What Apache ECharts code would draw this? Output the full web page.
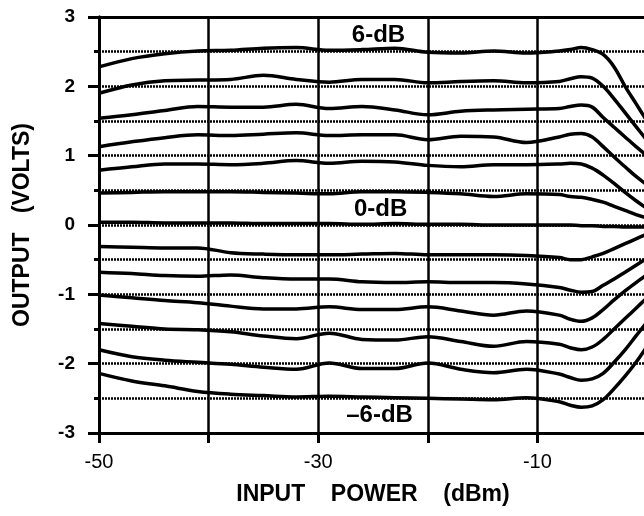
<!DOCTYPE html>
<html>
<head>
<meta charset="utf-8">
<script src="https://cdn.jsdelivr.net/npm/echarts@6/dist/echarts.min.js"></script>
<style>html,body{margin:0;padding:0;background:#fff;overflow:hidden;}#c{width:644px;height:516px;}</style>
</head>
<body>
<div id="c"></div>
<script>
// Input power (dBm) sample points
const inputPower = [-50,-47,-44,-41,-38,-35,-32,-29,-26,-23,-20,-17,-14,-11,-8,-7,-6,-5,-4,-3,-2,-1,0];
// Output (volts) per gain setting
const gainP6 = [2.28,2.40,2.47,2.51,2.52,2.55,2.56,2.52,2.53,2.55,2.49,2.48,2.51,2.48,2.51,2.53,2.56,2.53,2.46,2.28,2.00,1.75,1.50];
const gainP5 = [1.90,2.02,2.08,2.09,2.10,2.16,2.10,2.06,2.10,2.10,2.05,2.07,2.08,2.05,2.07,2.11,2.14,2.12,2.00,1.82,1.62,1.42,1.22];
const gainP4 = [1.54,1.59,1.65,1.71,1.70,1.70,1.74,1.68,1.71,1.66,1.59,1.64,1.66,1.67,1.68,1.71,1.73,1.70,1.55,1.41,1.27,1.13,1.00];
const gainP3 = [1.13,1.20,1.26,1.30,1.29,1.31,1.33,1.29,1.30,1.30,1.23,1.28,1.27,1.19,1.27,1.31,1.32,1.27,1.13,0.98,0.84,0.70,0.58];
const gainP2 = [0.79,0.84,0.88,0.88,0.87,0.89,0.93,0.89,0.92,0.91,0.86,0.84,0.87,0.87,0.88,0.89,0.88,0.82,0.72,0.60,0.47,0.35,0.24];
const gainP1 = [0.46,0.47,0.48,0.48,0.48,0.47,0.46,0.45,0.48,0.48,0.47,0.45,0.41,0.45,0.44,0.41,0.40,0.37,0.33,0.27,0.21,0.15,0.10];
const gain0  = [0.04,0.04,0.03,0.03,0.03,0.02,0.02,0.02,0.01,0.02,0.01,0.01,0.00,0.00,0.00,0.00,-0.01,-0.01,-0.02,-0.02,-0.03,-0.03,-0.03];
const gainM1 = [-0.31,-0.32,-0.33,-0.33,-0.40,-0.42,-0.43,-0.43,-0.42,-0.41,-0.43,-0.43,-0.43,-0.44,-0.47,-0.50,-0.50,-0.46,-0.41,-0.34,-0.27,-0.20,-0.13];
const gainM2 = [-0.68,-0.70,-0.73,-0.74,-0.72,-0.76,-0.78,-0.78,-0.82,-0.83,-0.82,-0.83,-0.83,-0.85,-0.90,-0.94,-0.97,-0.96,-0.87,-0.78,-0.68,-0.58,-0.48];
const gainM3 = [-1.01,-1.05,-1.09,-1.12,-1.17,-1.21,-1.21,-1.18,-1.22,-1.22,-1.18,-1.24,-1.30,-1.24,-1.30,-1.36,-1.39,-1.34,-1.22,-1.08,-0.95,-0.83,-0.72];
const gainM4 = [-1.42,-1.46,-1.50,-1.51,-1.54,-1.60,-1.64,-1.56,-1.65,-1.66,-1.61,-1.68,-1.75,-1.68,-1.72,-1.77,-1.80,-1.76,-1.65,-1.50,-1.35,-1.20,-1.05];
const gainM5 = [-1.80,-1.90,-1.95,-1.98,-2.01,-2.05,-2.08,-1.99,-2.07,-2.07,-1.99,-2.08,-2.13,-2.08,-2.15,-2.20,-2.24,-2.22,-2.14,-1.98,-1.80,-1.60,-1.40];
const gainM6 = [-2.14,-2.25,-2.32,-2.40,-2.44,-2.46,-2.48,-2.47,-2.48,-2.49,-2.50,-2.51,-2.52,-2.49,-2.55,-2.60,-2.63,-2.61,-2.52,-2.36,-2.18,-1.98,-1.75];
const xTickLabels = ['-50','-30','-10'];
const annotations = [[-24.5, 2.74, '6-dB'], [-24.3, 0.23, '0-dB'], [-24.4, -2.75, '\u20136-dB']];

const curves = [gainP6,gainP5,gainP4,gainP3,gainP2,gainP1,gain0,gainM1,gainM2,gainM3,gainM4,gainM5,gainM6];
const FONT = 'Liberation Sans, Arial, Helvetica, sans-serif';

const chart = echarts.init(document.getElementById('c'), null, {renderer: 'canvas'});
const series = curves.map(function (vals) {
  return {
    type: 'line',
    data: inputPower.map(function (x, i) { return [x, vals[i]]; }),
    showSymbol: false,
    smooth: 0.35,
    lineStyle: {color: '#000', width: 3.5},
    z: 3,
    silent: true
  };
});
series.push({
  type: 'scatter',
  data: annotations.map(function (a) { return [a[0], a[1], a[2]]; }),
  symbolSize: 0,
  itemStyle: {opacity: 1, color: '#000'},
  z: 5,
  label: {
    show: true, position: 'inside',
    formatter: function (p) { return p.data[2]; },
    color: '#000', opacity: 1, fontFamily: FONT, fontWeight: 'bold', fontSize: 24
  },
  silent: true
});

chart.setOption({
  backgroundColor: '#fff',
  animation: false,
  grid: {left: 99, top: 17, width: 548, bottom: 83, containLabel: false, outerBoundsMode: 'none'},
  xAxis: [{
    type: 'value', min: -50, max: 0, interval: 10,
    position: 'bottom',
    axisLine: {show: true, onZero: false, lineStyle: {color: '#000', width: 3}},
    axisTick: {show: true, length: 10, lineStyle: {color: '#000', width: 3}},
    axisLabel: {
      show: true, margin: 19, color: '#000', fontFamily: FONT, fontSize: 20,
      formatter: function (v) { var s = String(v); return xTickLabels.indexOf(s) >= 0 ? s : ''; }
    },
    splitLine: {show: true, lineStyle: {color: '#000', width: 2.5, type: 'solid'}},
    name: 'INPUT    POWER    (dBm)', nameLocation: 'middle', nameGap: 50,
    nameTextStyle: {color: '#000', fontFamily: FONT, fontWeight: 'bold', fontSize: 23}
  }, {
    type: 'value', min: -50, max: 0, interval: 10,
    position: 'top',
    axisLine: {show: true, onZero: false, lineStyle: {color: '#000', width: 3}},
    axisTick: {show: false}, axisLabel: {show: false}, splitLine: {show: false}
  }],
  yAxis: [{
    type: 'value', min: -3, max: 3, interval: 0.5,
    position: 'left',
    axisLine: {show: true, onZero: false, lineStyle: {color: '#000', width: 3}},
    axisTick: {show: true, length: 5, lineStyle: {color: '#000', width: 3}},
    axisLabel: {show: false},
    splitLine: {show: true, lineStyle: {color: '#000', width: 2.5, type: [2, 1]}}
  }, {
    type: 'value', min: -3, max: 3, interval: 1,
    position: 'left',
    axisLine: {show: true, onZero: false, lineStyle: {color: '#000', width: 3}},
    axisTick: {show: true, length: 11, lineStyle: {color: '#000', width: 3}},
    axisLabel: {show: true, margin: 24, color: '#000', fontFamily: FONT, fontWeight: 'bold', fontSize: 19,
      formatter: function (v) { return String(v); }},
    splitLine: {show: false},
    name: 'OUTPUT   (VOLTS)', nameLocation: 'middle', nameGap: 65, nameRotate: 90,
    nameTextStyle: {color: '#000', fontFamily: FONT, fontWeight: 'bold', fontSize: 23}
  }],
  series: series
});
</script>
</body>
</html>
